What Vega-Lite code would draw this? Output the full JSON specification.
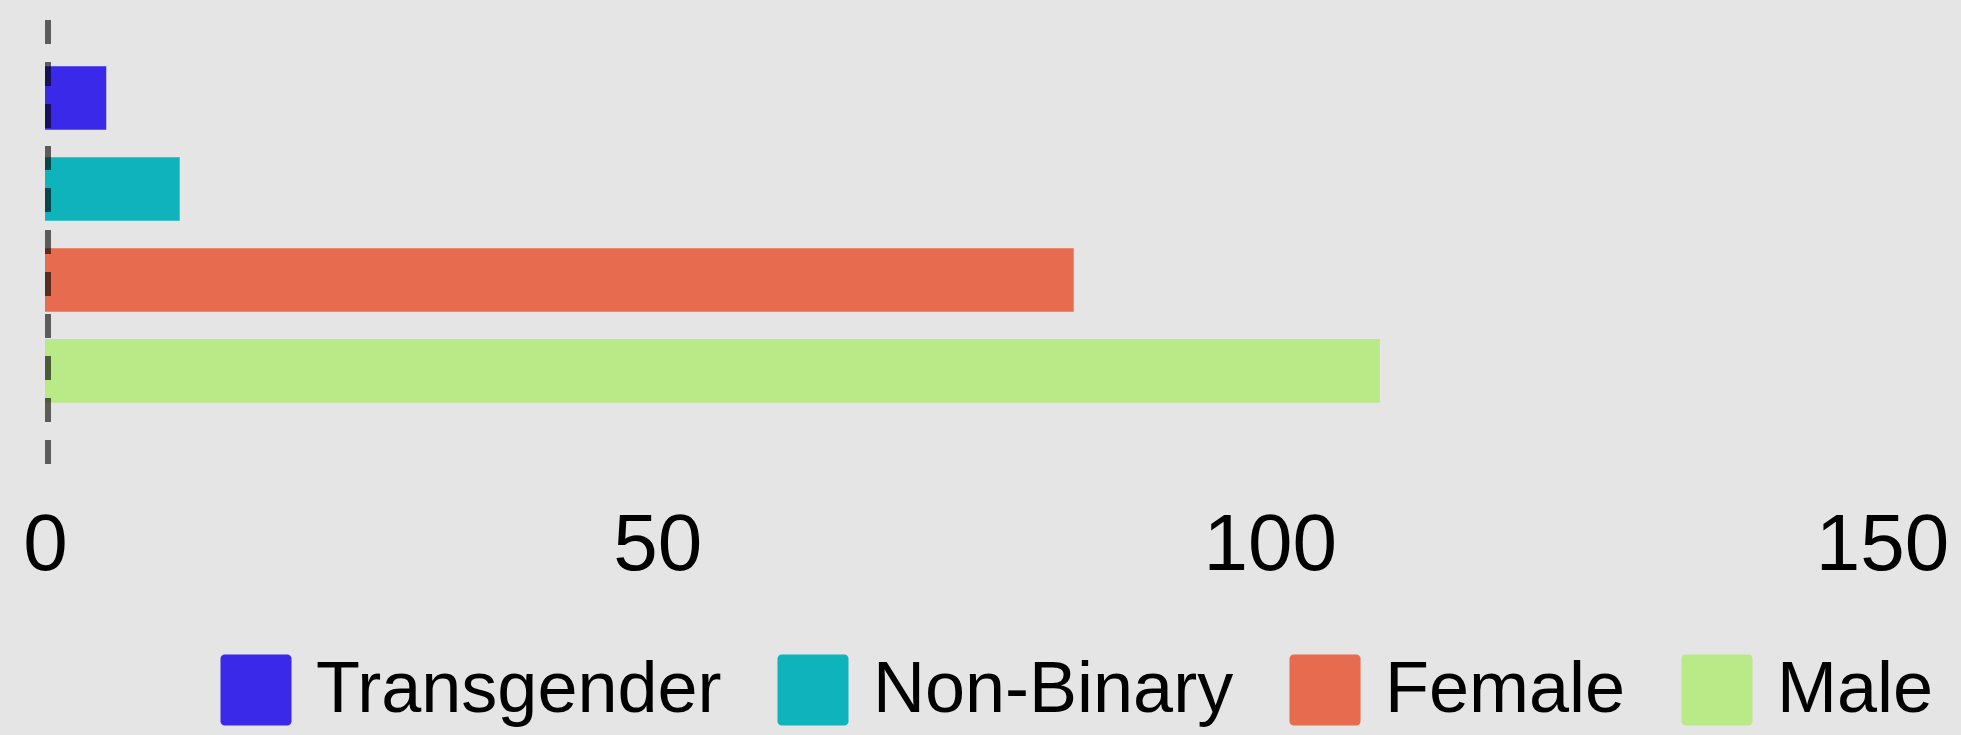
{
  "$schema": "https://vega.github.io/schema/vega-lite/v6.json",
  "width": 1837,
  "height": 444,
  "autosize": {"type": "none"},
  "padding": {"left": 45, "top": 20, "right": 79, "bottom": 271},
  "background": "#e5e5e5",
  "config": {
    "view": {"stroke": null, "fill": "#e5e5e5"},
    "font": "Liberation Sans"
  },
  "layer": [
    {
      "data": {
        "values": [
          {"gender": "Transgender", "count": 5},
          {"gender": "Non-Binary", "count": 11},
          {"gender": "Female", "count": 84},
          {"gender": "Male", "count": 109}
        ]
      },
      "mark": {"type": "bar"},
      "encoding": {
        "y": {
          "field": "gender",
          "type": "nominal",
          "sort": ["Transgender", "Non-Binary", "Female", "Male"],
          "scale": {"paddingInner": 0.3, "paddingOuter": 0.59, "align": 0.43},
          "axis": null
        },
        "x": {
          "field": "count",
          "type": "quantitative",
          "scale": {"domain": [0, 150], "nice": false},
          "axis": {
            "values": [0, 50, 100, 150],
            "grid": false,
            "domain": false,
            "ticks": false,
            "tickSize": 0,
            "title": null,
            "labelFontSize": 80,
            "labelColor": "#000000",
            "labelBaseline": "alphabetic",
            "labelPadding": 105,
            "labelFlush": false,
            "labelOverlap": false
          }
        },
        "color": {
          "field": "gender",
          "type": "nominal",
          "sort": ["Transgender", "Non-Binary", "Female", "Male"],
          "scale": {
            "domain": ["Transgender", "Non-Binary", "Female", "Male"],
            "range": ["#3a29e9", "#0fb3bc", "#e76b4e", "#bae988"]
          },
          "legend": {
            "orient": "none",
            "direction": "horizontal",
            "legendX": 175,
            "legendY": 634,
            "title": null,
            "symbolType": "M-0.88,-1H0.88A0.12,0.12 0 0 1 1,-0.88V0.88A0.12,0.12 0 0 1 0.88,1H-0.88A0.12,0.12 0 0 1 -1,0.88V-0.88A0.12,0.12 0 0 1 -0.88,-1Z",
            "symbolSize": 5041,
            "symbolOpacity": 1,
            "symbolStrokeWidth": 0,
            "labelFontSize": 72,
            "labelColor": "#000000",
            "labelOffset": 24,
            "columnPadding": 55,
            "labelLimit": 1000
          }
        }
      }
    },
    {
      "data": {"values": [{"reference": 0}]},
      "mark": {"type": "rule", "color": "#000000", "opacity": 0.6, "strokeWidth": 6, "strokeDash": [24, 18], "xOffset": 3},
      "encoding": {
        "x": {"field": "reference", "type": "quantitative"}
      }
    }
  ]
}
